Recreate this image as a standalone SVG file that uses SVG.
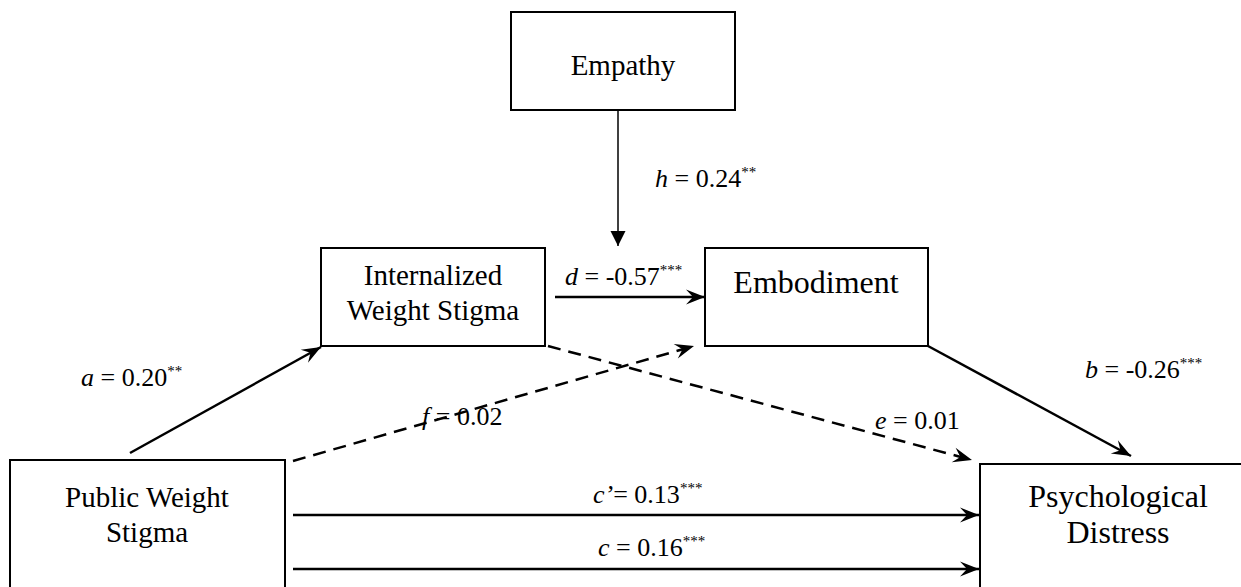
<svg xmlns="http://www.w3.org/2000/svg" width="1241" height="587" viewBox="0 0 1241 587">
  <style>
    .box { fill: #fff; stroke: #000; stroke-width: 2; }
    .node { font-family: "Liberation Serif", "Times New Roman", serif; font-size: 29px; fill: #000; text-anchor: middle; }
    .big { font-size: 32px; }
    .lbl { font-family: "Liberation Serif", "Times New Roman", serif; font-size: 26px; fill: #000; }
    .sup { font-size: 15px; }
    .path { fill: none; stroke: #000; stroke-width: 2.5; }
    .dash { stroke-dasharray: 13 8; }
  </style>
  <defs>
    <marker id="stealth" markerUnits="userSpaceOnUse" viewBox="-20 -9 22 18" refX="0" refY="0" markerWidth="22" markerHeight="18" orient="auto">
      <path d="M0,0 L-19,-7.5 L-12,0 L-19,7.5 Z" fill="#000"/>
    </marker>
    <marker id="tri" markerUnits="userSpaceOnUse" viewBox="-16 -9 18 18" refX="0" refY="0" markerWidth="18" markerHeight="18" orient="auto">
      <path d="M0,0 L-15,-7.5 L-15,7.5 Z" fill="#000"/>
    </marker>
  </defs>

  <rect width="1241" height="587" fill="#fff"/>

  <g id="connectors">
    <!-- moderation path h -->
    <line x1="618" y1="110" x2="618" y2="246" stroke="#000" stroke-width="1.5" marker-end="url(#tri)"/>
    <!-- a -->
    <line class="path" x1="130" y1="453" x2="321" y2="347" marker-end="url(#stealth)"/>
    <!-- d -->
    <line class="path" x1="555" y1="297" x2="705" y2="297" marker-end="url(#stealth)"/>
    <!-- b -->
    <line class="path" x1="928" y1="346" x2="1131" y2="456" marker-end="url(#stealth)"/>
    <!-- e -->
    <line class="path dash" x1="548" y1="346" x2="972" y2="460" marker-end="url(#stealth)"/>
    <!-- f -->
    <line class="path dash" x1="293" y1="461" x2="694" y2="346" marker-end="url(#stealth)"/>
    <!-- c' -->
    <line class="path" x1="293" y1="515" x2="979" y2="515" marker-end="url(#stealth)"/>
    <!-- c -->
    <line class="path" x1="293" y1="569" x2="979" y2="569" marker-end="url(#stealth)"/>
  </g>

  <g id="empathy">
    <rect class="box" x="511" y="12" width="224" height="98"/>
    <text class="node" x="623" y="75">Empathy</text>
  </g>

  <g id="internalized">
    <rect class="box" x="321" y="248" width="224" height="98"/>
    <text class="node" x="433" y="285">Internalized</text>
    <text class="node" x="433" y="320">Weight Stigma</text>
  </g>

  <g id="embodiment">
    <rect class="box" x="705" y="248" width="223" height="98"/>
    <text class="node big" x="816" y="293">Embodiment</text>
  </g>

  <g id="public">
    <rect class="box" x="10" y="460" width="275" height="140"/>
    <text class="node" x="147" y="507">Public Weight</text>
    <text class="node" x="147" y="542">Stigma</text>
  </g>

  <g id="distress">
    <rect class="box" x="980" y="464" width="280" height="140"/>
    <text class="node big" x="1118" y="507">Psychological</text>
    <text class="node big" x="1118" y="543">Distress</text>
  </g>

  <g id="labels">
    <text class="lbl" x="655" y="187"><tspan font-style="italic">h</tspan> = 0.24<tspan class="sup" dy="-10">**</tspan></text>
    <text class="lbl" x="565" y="285"><tspan font-style="italic">d</tspan> = -0.57<tspan class="sup" dy="-10">***</tspan></text>
    <text class="lbl" x="81" y="386"><tspan font-style="italic">a</tspan> = 0.20<tspan class="sup" dy="-10">**</tspan></text>
    <text class="lbl" x="1085" y="378"><tspan font-style="italic">b</tspan> = -0.26<tspan class="sup" dy="-10">***</tspan></text>
    <text class="lbl" x="422" y="425"><tspan font-style="italic">f</tspan> = 0.02</text>
    <text class="lbl" x="875" y="429"><tspan font-style="italic">e</tspan> = 0.01</text>
    <text class="lbl" x="593" y="503"><tspan font-style="italic">c’</tspan>= 0.13<tspan class="sup" dy="-10">***</tspan></text>
    <text class="lbl" x="598" y="556"><tspan font-style="italic">c</tspan> = 0.16<tspan class="sup" dy="-10">***</tspan></text>
  </g>
</svg>
